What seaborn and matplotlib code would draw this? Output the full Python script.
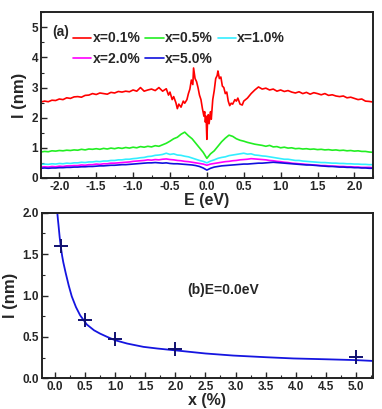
from matplotlib import pyplot as plt
from matplotlib.ticker import MultipleLocator, FormatStrFormatter
import numpy as np
import seaborn as sns

# (a) l(E) for different concentrations
energy = np.round(np.arange(-2.25, 2.2501, 0.05), 2)

red_energy = [-2.25, -2.20, -2.15, -2.10, -2.05, -2.00, -1.95, -1.90, -1.85, -1.80,
              -1.75, -1.70, -1.65, -1.60, -1.55, -1.50, -1.45, -1.40, -1.35, -1.30,
              -1.25, -1.20, -1.15, -1.10, -1.05, -1.00, -0.95, -0.90, -0.85, -0.80,
              -0.75, -0.70, -0.65, -0.60, -0.55, -0.52, -0.50, -0.47, -0.45, -0.42,
              -0.40, -0.38, -0.35, -0.32, -0.30, -0.27, -0.25, -0.23, -0.21, -0.19,
              -0.18, -0.16, -0.14, -0.12, -0.10, -0.08, -0.06, -0.04, -0.03, -0.02,
              -0.01, 0.00, 0.01, 0.02, 0.03, 0.05, 0.06, 0.08, 0.10, 0.12,
              0.14, 0.15, 0.17, 0.19, 0.21, 0.23, 0.25, 0.27, 0.29, 0.31,
              0.33, 0.35, 0.38, 0.40, 0.42, 0.45, 0.48, 0.50, 0.55, 0.60,
              0.65, 0.70, 0.75, 0.80, 0.85, 0.90, 0.95, 1.00, 1.05, 1.10,
              1.15, 1.20, 1.25, 1.30, 1.35, 1.40, 1.45, 1.50, 1.55, 1.60,
              1.65, 1.70, 1.75, 1.80, 1.85, 1.90, 1.95, 2.00, 2.05, 2.10,
              2.15, 2.20, 2.25]
red_l = [2.52, 2.55, 2.53, 2.58, 2.57, 2.62, 2.60, 2.66, 2.64, 2.69,
         2.70, 2.68, 2.74, 2.75, 2.80, 2.77, 2.82, 2.80, 2.78, 2.84,
         2.82, 2.87, 2.85, 2.88, 2.86, 2.92, 2.88, 3.00, 2.88, 2.92,
         2.95, 2.90, 3.00, 2.88, 2.96, 2.75, 2.85, 2.60, 2.70, 2.50,
         2.30, 2.45, 2.35, 2.55, 2.48, 2.60, 2.80, 2.95, 3.25, 3.10,
         3.65, 3.30, 3.20, 3.00, 2.75, 2.60, 2.30, 2.05, 2.20, 1.85,
         2.05, 1.28, 1.90, 2.10, 1.80, 2.20, 1.95, 2.60, 2.90, 3.30,
         3.40, 3.55, 3.30, 3.35, 3.05, 3.00, 2.80, 2.85, 2.55, 2.40,
         2.48, 2.45, 2.60, 2.55, 2.65, 2.45, 2.42, 2.55, 2.65, 2.80,
         2.92, 3.02, 2.95, 2.98, 2.92, 2.95, 2.88, 2.92, 2.87, 2.90,
         2.85, 2.82, 2.86, 2.80, 2.84, 2.78, 2.83, 2.80, 2.76, 2.80,
         2.74, 2.76, 2.72, 2.70, 2.72, 2.66, 2.68, 2.64, 2.60, 2.62,
         2.55, 2.54, 2.52]

green_l = [0.86, 0.88, 0.87, 0.90, 0.89, 0.91, 0.90, 0.92, 0.91, 0.93,
           0.92, 0.95, 0.93, 0.96, 0.95, 0.97, 0.95, 0.98, 0.96, 0.99,
           0.97, 1.00, 0.98, 1.01, 0.99, 1.02, 1.00, 1.04, 1.02, 1.05,
           1.03, 1.07, 1.05, 1.10, 1.15, 1.22, 1.30, 1.35, 1.45, 1.52,
           1.40, 1.30, 1.15, 1.00, 0.85, 0.65, 0.80, 0.90, 1.05, 1.20,
           1.32, 1.42, 1.38, 1.30, 1.25, 1.22, 1.18, 1.15, 1.12, 1.10,
           1.08, 1.05, 1.08, 1.03, 1.04, 1.00, 1.02, 0.99, 1.00, 0.97,
           0.98, 0.96, 0.97, 0.95, 0.96, 0.94, 0.95, 0.93, 0.94, 0.92,
           0.93, 0.91, 0.92, 0.90, 0.91, 0.89, 0.90, 0.88, 0.88, 0.86,
           0.85]
cyan_l = [0.45, 0.46, 0.45, 0.47, 0.46, 0.48, 0.47, 0.49, 0.48, 0.50,
          0.50, 0.52, 0.51, 0.53, 0.53, 0.55, 0.54, 0.56, 0.56, 0.58,
          0.58, 0.60, 0.60, 0.62, 0.62, 0.64, 0.65, 0.67, 0.68, 0.71,
          0.72, 0.75, 0.76, 0.78, 0.82, 0.78, 0.80, 0.76, 0.75, 0.72,
          0.70, 0.66, 0.62, 0.58, 0.55, 0.50, 0.56, 0.60, 0.65, 0.68,
          0.70, 0.74, 0.76, 0.78, 0.80, 0.82, 0.79, 0.80, 0.76, 0.75,
          0.73, 0.72, 0.70, 0.68, 0.66, 0.64, 0.62, 0.62, 0.60, 0.58,
          0.58, 0.56, 0.55, 0.54, 0.53, 0.52, 0.51, 0.51, 0.50, 0.49,
          0.49, 0.48, 0.48, 0.47, 0.47, 0.46, 0.46, 0.45, 0.45, 0.44,
          0.44]
magenta_l = [0.36, 0.37, 0.36, 0.38, 0.37, 0.39, 0.38, 0.40, 0.40, 0.41,
             0.41, 0.43, 0.42, 0.44, 0.44, 0.46, 0.45, 0.47, 0.47, 0.49,
             0.49, 0.50, 0.51, 0.52, 0.53, 0.55, 0.56, 0.57, 0.58, 0.60,
             0.59, 0.61, 0.60, 0.62, 0.63, 0.61, 0.60, 0.58, 0.57, 0.55,
             0.54, 0.52, 0.50, 0.48, 0.46, 0.42, 0.46, 0.48, 0.50, 0.52,
             0.54, 0.55, 0.57, 0.58, 0.60, 0.61, 0.62, 0.64, 0.63, 0.62,
             0.61, 0.60, 0.58, 0.57, 0.55, 0.54, 0.52, 0.51, 0.49, 0.48,
             0.47, 0.46, 0.45, 0.44, 0.43, 0.42, 0.41, 0.41, 0.40, 0.39,
             0.39, 0.38, 0.38, 0.37, 0.37, 0.36, 0.36, 0.35, 0.35, 0.35,
             0.34]
blue_l = [0.32, 0.33, 0.32, 0.33, 0.33, 0.34, 0.34, 0.35, 0.35, 0.36,
          0.36, 0.37, 0.37, 0.38, 0.38, 0.39, 0.40, 0.40, 0.41, 0.42,
          0.42, 0.43, 0.44, 0.44, 0.45, 0.46, 0.47, 0.48, 0.49, 0.50,
          0.50, 0.51, 0.50, 0.49, 0.50, 0.48, 0.47, 0.47, 0.46, 0.45,
          0.44, 0.43, 0.41, 0.38, 0.33, 0.26, 0.32, 0.36, 0.38, 0.40,
          0.41, 0.42, 0.43, 0.44, 0.45, 0.46, 0.46, 0.47, 0.48, 0.49,
          0.49, 0.50, 0.51, 0.52, 0.51, 0.50, 0.49, 0.48, 0.47, 0.46,
          0.45, 0.44, 0.43, 0.43, 0.42, 0.41, 0.40, 0.39, 0.38, 0.38,
          0.37, 0.36, 0.36, 0.35, 0.35, 0.34, 0.34, 0.33, 0.33, 0.32,
          0.32]

labels = ["x=0.1%", "x=0.5%", "x=1.0%", "x=2.0%", "x=5.0%"]
colors = ["#ff0000", "#22ee22", "#33eeff", "#ff00ff", "#1010dd"]

# (b) l at E=0 vs x
conc = [0.1, 0.5, 1.0, 2.0, 5.0]
l_zero = [1.6, 0.7, 0.48, 0.35, 0.26]
fit_x = [0.04, 0.05, 0.06, 0.08, 0.1, 0.12, 0.14, 0.18, 0.23, 0.28, 0.35, 0.42,
         0.53, 0.65, 0.75, 0.87, 1.0, 1.2, 1.47, 1.7, 1.97, 2.5, 2.96, 3.5,
         3.96, 4.5, 5.0, 5.28]
fit_l = [2.0, 1.92, 1.85, 1.70, 1.58, 1.48, 1.40, 1.27, 1.12, 0.99, 0.86, 0.76,
         0.65, 0.58, 0.54, 0.50, 0.46, 0.42, 0.38, 0.36, 0.34, 0.30, 0.275, 0.255,
         0.24, 0.23, 0.22, 0.21]

sns.set_theme(style="ticks")
plt.rcParams["font.family"] = ["Liberation Sans", "DejaVu Sans"]
plt.rcParams["font.weight"] = "bold"
plt.rcParams["axes.labelweight"] = "bold"

fig = plt.figure(figsize=(3.82, 4.09), dpi=100)
ax1 = fig.add_axes([0.107, 0.565, 0.869, 0.405])
ax2 = fig.add_axes([0.109, 0.075, 0.867, 0.405])

curves = [(red_energy, red_l)] + [(energy, v) for v in [green_l, cyan_l, magenta_l, blue_l]]
for (ex, ly), lab, col in zip(curves, labels, colors):
    sns.lineplot(x=ex, y=ly, ax=ax1, color=col, lw=1.2, label=lab)

ax1.set_xlim(-2.25, 2.25)
ax1.set_ylim(0, 5.5)
ax1.xaxis.set_major_locator(MultipleLocator(0.5))
ax1.xaxis.set_minor_locator(MultipleLocator(0.25))
ax1.yaxis.set_major_locator(MultipleLocator(1))
ax1.yaxis.set_minor_locator(MultipleLocator(0.5))
ax1.set_xlabel("E (eV)", fontsize=11.5, labelpad=0)
ax1.set_ylabel("l (nm)", fontsize=12, labelpad=3)
ax1.text(0.035, 0.88, "(a)", transform=ax1.transAxes, fontsize=10, fontweight="bold",
         va="center")

h, l = ax1.get_legend_handles_labels()
order = [0, 3, 1, 4, 2]
ax1.legend([h[i] for i in order], [l[i] for i in order], ncol=3, loc="upper left",
           bbox_to_anchor=(0.06, 0.96), frameon=False,
           handlelength=1.3, handletextpad=0.1, columnspacing=0.35, labelspacing=0.45,
           prop={"weight": "bold", "size": 10})

sns.lineplot(x=fit_x, y=fit_l, ax=ax2, color="#1515e0", lw=1.3)
sns.scatterplot(x=conc, y=l_zero, ax=ax2, marker="+", s=110, color="#101070",
                linewidth=1.4, zorder=3)
ax2.set_xlim(-0.22, 5.28)
ax2.set_ylim(0, 2.0)
ax2.xaxis.set_major_locator(MultipleLocator(0.5))
ax2.xaxis.set_minor_locator(MultipleLocator(0.25))
ax2.yaxis.set_major_locator(MultipleLocator(0.5))
ax2.yaxis.set_minor_locator(MultipleLocator(0.25))
ax2.set_xlabel("x (%)", fontsize=11.5, labelpad=0)
ax2.set_ylabel("l (nm)", fontsize=12, labelpad=3)
ax2.text(2.2, 1.07, "(b)E=0.0eV", fontsize=10, fontweight="bold", va="center")

for ax in (ax1, ax2):
    for s in ax.spines.values():
        s.set_linewidth(1.4)
        s.set_color("#222222")
    ax.tick_params(which="both", direction="in", top=False, right=False,
                   labelsize=8.5, pad=2)
    ax.tick_params(which="major", length=4, width=1)
    ax.tick_params(which="minor", length=2, width=0.8)
    ax.xaxis.set_major_formatter(FormatStrFormatter("%.1f"))

ax1.yaxis.set_major_formatter(FormatStrFormatter("%.0f"))
ax2.yaxis.set_major_formatter(FormatStrFormatter("%.1f"))

fig.savefig("out.png", dpi=100)
